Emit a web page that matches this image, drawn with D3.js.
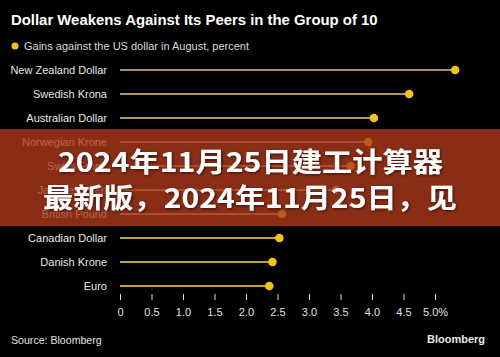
<!DOCTYPE html>
<html><head><meta charset="utf-8">
<script src="https://cdn.jsdelivr.net/npm/d3@7"></script>
<style>
html,body{margin:0;padding:0;background:#000;}
svg{display:block;}
</style></head>
<body>
<script>
const categories = ["New Zealand Dollar","Swedish Krona","Australian Dollar","Norwegian Krone","Swiss Franc","Japanese Yen","British Pound","Canadian Dollar","Danish Krone","Euro"];
const gains = [5.32, 4.59, 4.03, 3.94, 3.66, 3.43, 2.57, 2.53, 2.42, 2.37];
const tickValues = [0, 0.5, 1.0, 1.5, 2.0, 2.5, 3.0, 3.5, 4.0, 4.5, 5.0];
const tickLabels = ["0","0.5","1.0","1.5","2.0","2.5","3.0","3.5","4.0","4.5","5.0%"];
const title = "Dollar Weakens Against Its Peers in the Group of 10";
const subtitle = "Gains against the US dollar in August, percent";
const source = "Source: Bloomberg";
const brand = "Bloomberg";
const bannerLines = ["2024年11月25日建工计算器", "最新版，2024年11月25日，见"];

const W = 500, H = 357;
const svg = d3.select("body").append("svg").attr("width", W).attr("height", H);
svg.append("rect").attr("width", W).attr("height", H).attr("fill", "#000");

const font = "'Liberation Sans', Arial, sans-serif";

const x = d3.scaleLinear().domain([0, 5]).range([120, 435]);
const y = d3.scalePoint().domain(categories).range([70, 286]);
const lineColor = d3.scaleLinear().domain([0, categories.length - 1]).range(["#a8916a", "#c9a23c"]);

svg.append("text").attr("x", 11).attr("y", 25).text(title)
  .attr("fill", "#fff").attr("font-family", font).attr("font-weight", "bold").attr("font-size", 14.9);

svg.append("circle").attr("cx", 15).attr("cy", 46).attr("r", 3.5).attr("fill", "#f2c318");
svg.append("text").attr("x", 24).attr("y", 49.8).text(subtitle)
  .attr("fill", "#d8d8d8").attr("font-family", font).attr("font-size", 11);

const rows = svg.append("g");
rows.selectAll("line.stem").data(categories).join("line")
  .attr("class", "stem")
  .attr("x1", x(0)).attr("x2", (d, i) => x(gains[i]))
  .attr("y1", d => y(d)).attr("y2", d => y(d))
  .attr("stroke", (d, i) => lineColor(i)).attr("stroke-width", 2);
rows.selectAll("circle.dot").data(categories).join("circle")
  .attr("class", "dot")
  .attr("cx", (d, i) => x(gains[i])).attr("cy", d => y(d)).attr("r", 4.3)
  .attr("fill", "#f2c318");
rows.selectAll("text.lab").data(categories).join("text")
  .attr("class", "lab")
  .attr("x", 107).attr("y", d => y(d) + 4)
  .attr("text-anchor", "end").text(d => d)
  .attr("fill", "#e6e6e6").attr("font-family", font).attr("font-size", 11);

const axis = d3.axisBottom(x).tickValues(tickValues).tickSize(6).tickPadding(8)
  .tickFormat((d, i) => tickLabels[i]);
const ax = svg.append("g").attr("transform", "translate(0,294)").call(axis);
ax.select(".domain").remove();
ax.selectAll(".tick line").attr("stroke", "#ddd").attr("stroke-width", 1);
ax.selectAll(".tick text").attr("fill", "#e0e0e0").attr("font-family", font).attr("font-size", 11);

svg.append("text").attr("x", 11).attr("y", 344).text(source)
  .attr("fill", "#e0e0e0").attr("font-family", font).attr("font-size", 10.6);
svg.append("text").attr("x", 485).attr("y", 343).attr("text-anchor", "end").text(brand)
  .attr("fill", "#e8e8e8").attr("font-family", font).attr("font-weight", "bold").attr("font-size", 11);

// overlay banner
svg.append("rect").attr("x", 0).attr("y", 129).attr("width", W).attr("height", 97)
  .attr("fill", "rgb(176,58,28)").attr("fill-opacity", 0.78);

const defs = svg.append("defs");
const f = defs.append("filter").attr("id", "sh").attr("x", "-10%").attr("y", "-30%").attr("width", "120%").attr("height", "160%");
f.append("feDropShadow").attr("dx", 1).attr("dy", 1).attr("stdDeviation", 1.5).attr("flood-color", "#000").attr("flood-opacity", 0.6);

const cjk = "'Noto Sans CJK SC', sans-serif";
svg.append("text").attr("x", 58).attr("y", 172).text(bannerLines[0])
  .attr("textLength", 385).attr("lengthAdjust", "spacingAndGlyphs")
  .attr("fill", "#fff").attr("font-family", cjk).attr("font-weight", "bold").attr("font-size", 27)
  .attr("filter", "url(#sh)");
svg.append("text").attr("x", 43).attr("y", 208).text(bannerLines[1])
  .attr("textLength", 414).attr("lengthAdjust", "spacingAndGlyphs")
  .attr("fill", "#fff").attr("font-family", cjk).attr("font-weight", "bold").attr("font-size", 27)
  .attr("filter", "url(#sh)");
</script>
</body></html>
